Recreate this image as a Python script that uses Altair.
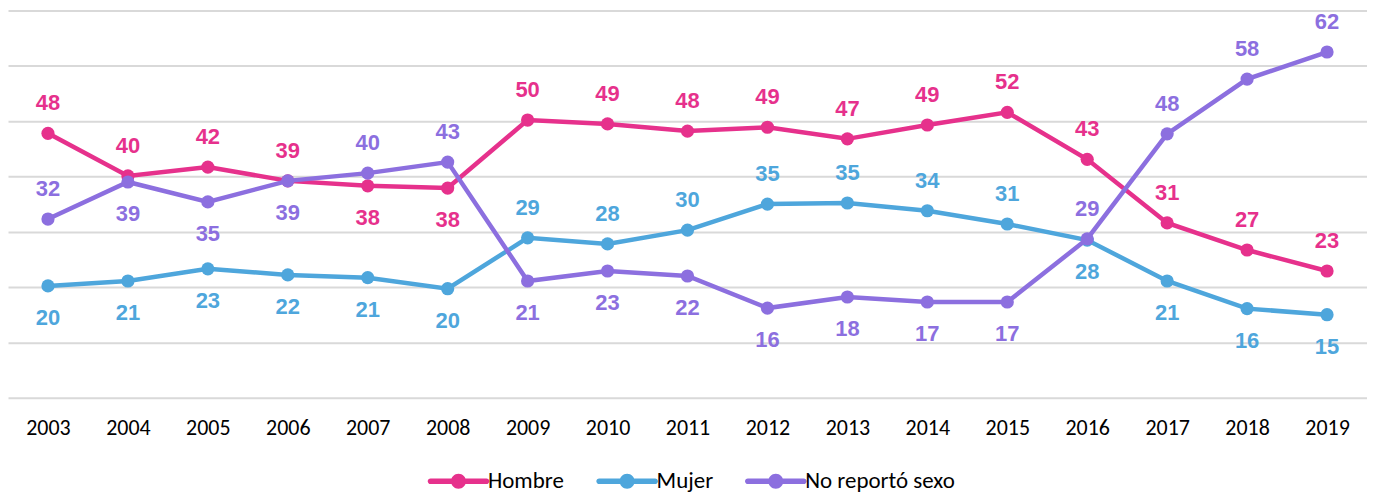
import altair as alt
import pandas as pd

years = [str(y) for y in range(2003, 2020)]
series_names = ["Hombre", "Mujer", "No reportó sexo"]

hombre = [47.8, 40.1, 41.7, 39.2, 38.3, 37.9, 50.2, 49.5, 48.2, 48.9, 46.8, 49.3, 51.6, 43.1, 31.6, 26.7, 22.9]
mujer = [20.2, 21.1, 23.3, 22.2, 21.7, 19.7, 28.9, 27.8, 30.3, 35.0, 35.2, 33.8, 31.4, 28.5, 21.1, 16.1, 15.0]
no_reporto = [32.3, 39.0, 35.4, 39.2, 40.6, 42.6, 21.1, 22.9, 22.0, 16.2, 18.2, 17.3, 17.3, 28.7, 47.7, 57.6, 62.5]

hombre_lbl = [48, 40, 42, 39, 38, 38, 50, 49, 48, 49, 47, 49, 52, 43, 31, 27, 23]
mujer_lbl = [20, 21, 23, 22, 21, 20, 29, 28, 30, 35, 35, 34, 31, 28, 21, 16, 15]
no_reporto_lbl = [32, 39, 35, 39, 40, 43, 21, 23, 22, 16, 18, 17, 17, 29, 48, 58, 62]

# label side: "a" above the point, "b" below
hombre_side = ["a", "a", "a", "a", "b", "b", "a", "a", "a", "a", "a", "a", "a", "a", "a", "a", "a"]
mujer_side = ["b", "b", "b", "b", "b", "b", "a", "a", "a", "a", "a", "a", "a", "b", "b", "b", "b"]
no_reporto_side = ["a", "b", "b", "b", "a", "a", "b", "b", "b", "b", "b", "b", "b", "a", "a", "a", "a"]

colors = ["#E6318C", "#4EA6DC", "#8C6FDF"]

rows = []
for name, vals, lbls, sides in [
    ("Hombre", hombre, hombre_lbl, hombre_side),
    ("Mujer", mujer, mujer_lbl, mujer_side),
    ("No reportó sexo", no_reporto, no_reporto_lbl, no_reporto_side),
]:
    for i, yv in enumerate(years):
        rows.append({"year": yv, "serie": name, "value": vals[i], "label": str(lbls[i]), "side": sides[i]})
df = pd.DataFrame(rows)

x = alt.X("year:O", scale=alt.Scale(type="point", padding=0.5), title=None,
          axis=alt.Axis(labelAngle=0, ticks=False, domain=False, grid=False,
                        labelFont="Carlito, Calibri, Lato, sans-serif", labelFontSize=22,
                        labelColor="#000000", labelPadding=20))
y = alt.Y("value:Q", scale=alt.Scale(domain=[0, 70], nice=False), title=None,
          axis=alt.Axis(values=[0, 10, 20, 30, 40, 50, 60, 70], labels=False, ticks=False,
                        domain=False, grid=True, gridColor="#D9D9D9", gridWidth=2))

legend_path = ("M-4,-0.41L4,-0.41A0.41,0.41,0,0,1,4,0.41L-4,0.41A0.41,0.41,0,0,1,-4,-0.41Z "
               "M1.07,0A1.07,1.07,0,1,1,-1.07,0A1.07,1.07,0,1,1,1.07,0Z")
legend = alt.Legend(title=None, orient="none", direction="horizontal",
                    legendX=440, legendY=460,
                    symbolType=legend_path, symbolSize=196,
                    symbolStrokeWidth=0, symbolOpacity=1,
                    labelOffset=18, columnPadding=31,
                    labelFont="Carlito, Calibri, Lato, sans-serif",
                    labelFontSize=23, labelColor="#000000")
color = alt.Color("serie:N", scale=alt.Scale(domain=series_names, range=colors), legend=legend)

base = alt.Chart(df)

lines = base.mark_line(strokeWidth=4.5).encode(
    x=x, y=y, color=color, order=alt.Order("year:O"),
)

points = base.mark_point(filled=True, size=175, opacity=1).encode(x=x, y=y, color=color)

label_font = "Liberation Sans Narrow, Liberation Sans, Arial, sans-serif"

above = base.transform_filter(alt.datum.side == "a").mark_text(
    dy=-30, fontSize=22, fontWeight="bold", font=label_font, baseline="middle"
).encode(x=x, y=y, text="label:N", color=color)

below = base.transform_filter(alt.datum.side == "b").mark_text(
    dy=32, fontSize=22, fontWeight="bold", font=label_font, baseline="middle"
).encode(x=x, y=y, text="label:N", color=color)

layers = []
for name in series_names:
    f = alt.datum.serie == name
    layers.append(lines.transform_filter(f))
    layers.append(points.transform_filter(f))

chart = alt.layer(*layers, above, below).properties(
    width=1362, height=388,
    padding={"left": 0, "top": 2, "right": 0, "bottom": 0},
).configure_view(stroke=None)

chart.save("out.html", embed_options={"renderer": "svg", "actions": False})
